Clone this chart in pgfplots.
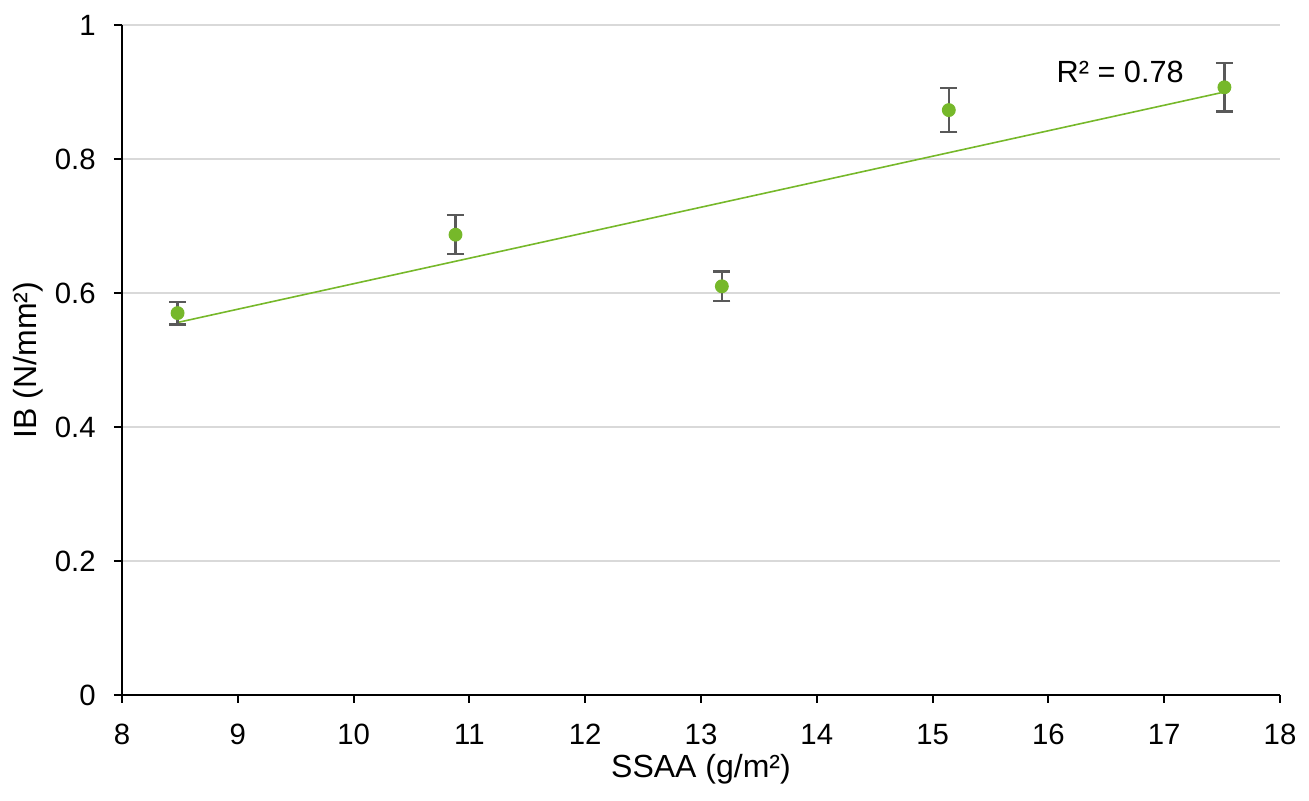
\documentclass[border=0pt]{standalone}
\usepackage{pgfplots}
\pgfplotsset{compat=1.18}
\usepackage{fontspec}
\setmainfont{Liberation Sans}
\definecolor{ptgreen}{RGB}{118,184,42}
\definecolor{errgray}{RGB}{89,89,89}
\definecolor{gridgray}{RGB}{217,217,217}
\begin{document}
\fontsize{11}{13}\selectfont
\begin{tikzpicture}
\begin{axis}[
  scale only axis,
  width=434.25pt, height=251.25pt,
  xmin=8, xmax=18, ymin=0, ymax=1,
  xtick={8,9,...,18},
  ytick={0,0.2,0.4,0.6,0.8,1},
  yticklabels={0,0.2,0.4,0.6,0.8,1},
  axis x line*=bottom, axis y line*=left,
  axis line style={black, line width=0.8pt, -},
  tick style={black, line width=0.8pt},
  major tick length=3pt,
  tick align=outside,
  ymajorgrids,
  grid style={gridgray, line width=0.7pt},
  /pgf/number format/assume math mode=true,
  tick label style={font=\fontsize{11}{13}\selectfont},
  xticklabel style={yshift=-4pt},
  yticklabel style={xshift=-3pt},
  xlabel={SSAA (g/m²)},
  ylabel={IB (N/mm²)},
  label style={font=\fontsize{12}{14}\selectfont},
  xlabel style={at={(axis description cs:0.5,-0.1114)}, anchor=center},
  ylabel style={at={(axis description cs:-0.0812,0.5)}, anchor=center},
  clip=false,
]
\coordinate (bl) at (rel axis cs:0,0);
\addplot[ptgreen, line width=0.6pt] coordinates {(8.48,0.556) (17.52,0.900)};
\addplot[only marks, mark=*, mark size=2.4pt, mark options={fill=ptgreen, draw=ptgreen},
  error bars/.cd, y dir=both, y explicit,
  error bar style={errgray, line width=0.9pt},
  error mark options={errgray, line width=0.9pt, rotate=90, mark size=3.2pt}]
  coordinates {
  (8.48,0.570) +- (0,0.017)
  (10.88,0.687) +- (0,0.029)
  (13.18,0.610) +- (0,0.022)
  (15.14,0.873) +- (0,0.033)
  (17.52,0.907) +- (0,0.036)
  };
\node[font=\fontsize{11.5}{13}\selectfont] at (axis cs:16.62,0.930) {R² = 0.78};
\end{axis}
\pgfresetboundingbox
\path (bl) ++(-45.75pt,-39.75pt) rectangle ++(490.875pt,300.375pt);
\end{tikzpicture}
\end{document}
